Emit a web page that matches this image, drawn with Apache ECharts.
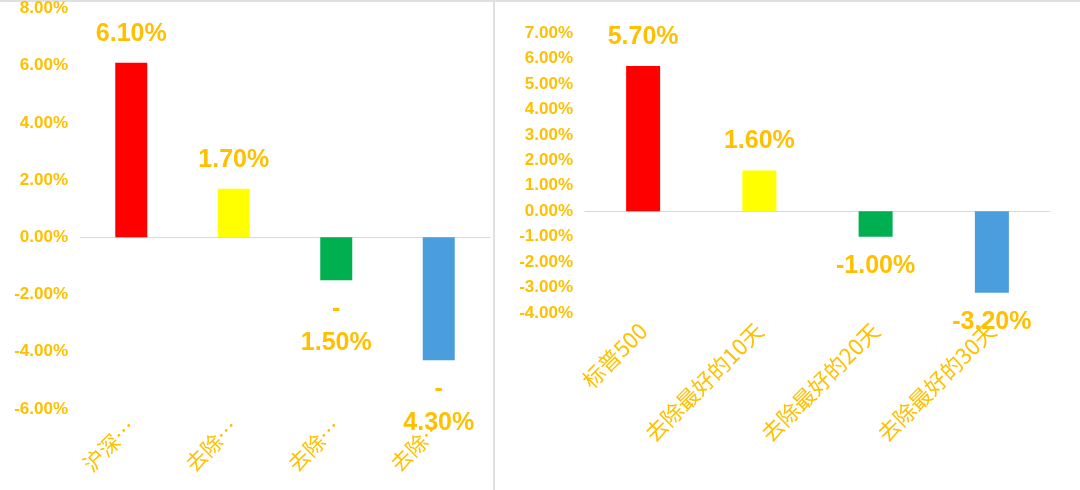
<!DOCTYPE html><html><head><meta charset="utf-8"><script src="https://cdn.jsdelivr.net/npm/echarts@6/dist/echarts.min.js"></script>
<style>body{margin:0}#c{width:1080px;height:490px}</style></head><body><div id="c"></div><script>
const leftCats=['沪深…','去除…','去除…','去除…'];
const leftVals=[6.1,1.7,-1.5,-4.3];
const rightCats=['标普500','去除最好的10天','去除最好的20天','去除最好的30天'];
const rightVals=[5.7,1.6,-1.0,-3.2];
const colors=['#FF0000','#FFFF00','#00B050','#4A9EDD'];
const gold='#FFC000';
const font='"Noto Sans CJK SC", sans-serif';
function mk(vals,split){return vals.map((v,i)=>({value:v,itemStyle:{color:colors[i]},label:{position:v>=0?'top':'bottom',formatter:()=>v<0&&split?'-\n'+Math.abs(v).toFixed(2)+'%':v.toFixed(2)+'%'}}));}
const yax=(min,max,interval)=>({type:'value',min,max,interval,splitLine:{show:false},axisLine:{show:false},axisTick:{show:false},axisLabel:{color:gold,fontSize:17,fontWeight:'bold',fontFamily:'Arial',formatter:v=>v.toFixed(2)+'%',margin:12}});
const xax=(cats,size)=>({type:'category',data:cats,axisTick:{show:false},axisLine:{onZero:true,lineStyle:{color:'#d9d9d9'}},axisLabel:{rotate:45,color:gold,fontSize:size,fontFamily:font,interval:0,margin:14}});
const lab={show:true,color:gold,fontSize:25,fontWeight:'bold',fontFamily:'Arial',lineHeight:34,distance:12};
const c=echarts.init(document.getElementById('c'));
c.setOption({animation:false,backgroundColor:'#fff',
graphic:[{type:'rect',shape:{x:0,y:0,width:1080,height:2},style:{fill:'#e0e0e0'}},{type:'rect',shape:{x:493,y:0,width:2,height:490},style:{fill:'#e0e0e0'}}],
grid:[{left:80,right:590,top:6,bottom:81},{left:585,right:30,top:33,bottom:177}],
xAxis:[Object.assign(xax(leftCats,21),{gridIndex:0}),Object.assign(xax(rightCats,22),{gridIndex:1})],
yAxis:[Object.assign(yax(-6,8,2),{gridIndex:0}),Object.assign(yax(-4,7,1),{gridIndex:1})],
series:[{type:'bar',xAxisIndex:0,yAxisIndex:0,barWidth:32,data:mk(leftVals,true),label:lab},
{type:'bar',xAxisIndex:1,yAxisIndex:1,barWidth:34,data:mk(rightVals,false),label:lab}]});
</script></body></html>
